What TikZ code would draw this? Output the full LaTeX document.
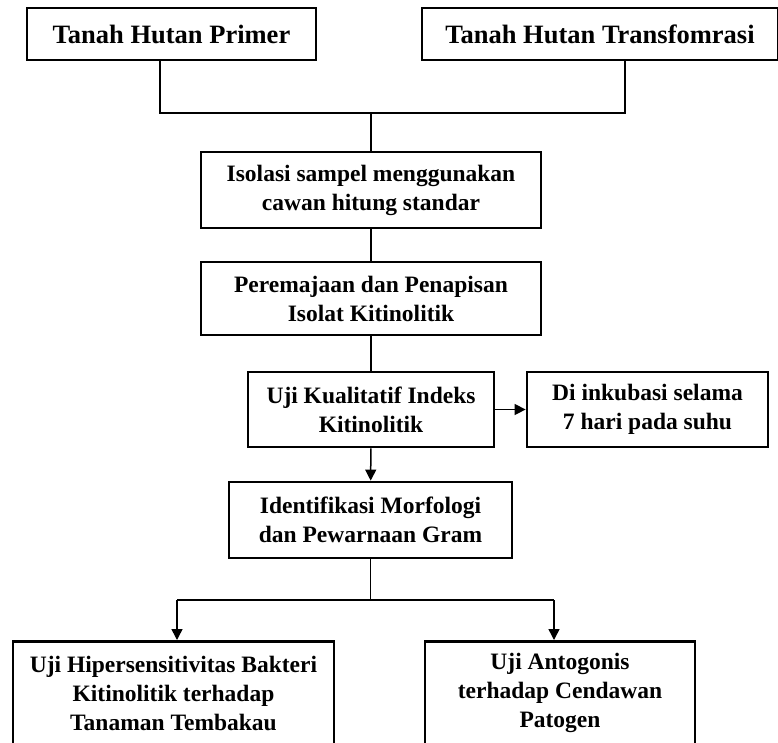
\documentclass[tikz,border=0pt]{standalone}
\usepackage{fontspec}
\setmainfont{Liberation Serif}
\usepackage{tikz}
\usetikzlibrary{arrows.meta, positioning, calc}

\begin{document}
\begin{tikzpicture}[
    x=1pt, y=-1pt,
    box/.style={draw, line width=2.8pt, align=center, font=\bfseries\fontsize{23.5}{29}\selectfont, inner sep=0pt},
    topbox/.style={box, font=\bfseries\fontsize{26.5}{30}\selectfont, minimum height=52pt},
    link/.style={line width=1.5pt},
    flow/.style={line width=1.5pt, -{Triangle[length=11pt, width=11pt]}}
]
    \clip (0,0) rectangle (778,742);
    \useasboundingbox (0,0) rectangle (778,742);

    % Sources
    \node[topbox, minimum width=289pt] (primer) at (171.5,34) {Tanah Hutan Primer};
    \node[topbox, minimum width=356pt] (trans) at (600,34) {Tanah Hutan Transfomrasi};

    % Main steps
    \node[box, minimum width=340pt, minimum height=76pt] (isolasi) at (371,190) {Isolasi sampel menggunakan\\cawan hitung standar};
    \node[box, minimum width=340pt, minimum height=73pt] (remaja) at (371,298.5) {Peremajaan dan Penapisan\\Isolat Kitinolitik};
    \node[box, minimum width=246pt, minimum height=75pt] (uji) at (371,409.5) {Uji Kualitatif Indeks\\Kitinolitik};
    \node[box, minimum width=241pt, minimum height=75pt] (inkubasi) at (647.5,409.5) {Di inkubasi selama\\7 hari pada suhu};
    \node[box, minimum width=283pt, minimum height=76pt] (identi) at (370.5,520) {Identifikasi Morfologi\\dan Pewarnaan Gram};

    % Final tests
    \node[box, minimum width=321pt, minimum height=104pt, anchor=north] (hiper) at (173.5,640) {Uji Hipersensitivitas Bakteri\\Kitinolitik terhadap\\Tanaman Tembakau};
    \node[box, minimum width=270pt, minimum height=104pt, anchor=north] (antago) at (560,640) {Uji Antogonis\\terhadap Cendawan\\Patogen};

    % Junctions
    \coordinate (jtl) at (160,113);
    \coordinate (jtr) at (625,113);
    \coordinate (jbl) at (177,600);
    \coordinate (jbr) at (554,600);

    % Connectors
    \draw[link] (primer.south -| jtl) -- (jtl) -- (jtr) -- (trans.south -| jtr);
    \draw[link] (jtl -| isolasi.north) -- (isolasi.north);
    \draw[link] (isolasi) -- (remaja);
    \draw[link] (remaja) -- (uji);
    \draw[flow] (uji) -- (inkubasi);
    \draw[flow] (uji) -- (identi);
    \draw[link] (identi.south) -- (jbl -| identi.south);
    \draw[link] (jbl) -- (jbr);
    \draw[flow] (jbl) -- (jbl |- hiper.north);
    \draw[flow] (jbr) -- (jbr |- antago.north);
\end{tikzpicture}
\end{document}
